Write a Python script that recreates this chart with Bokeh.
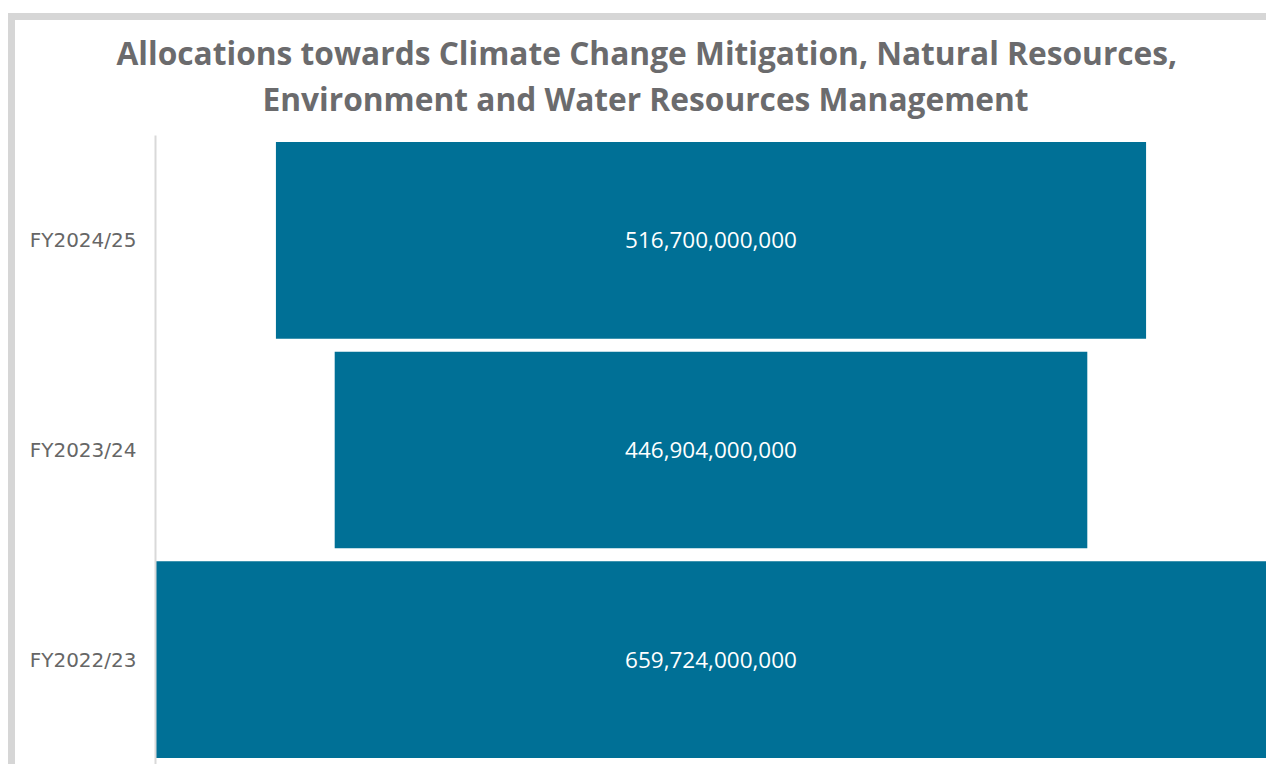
from bokeh.plotting import figure
from bokeh.models import ColumnDataSource, FactorRange, Range1d, Title
from bokeh.layouts import column
from bokeh.embed import file_html
from bokeh.resources import INLINE
from bokeh.core.properties import value

# ---- data ----
categories = ["FY2022/23", "FY2023/24", "FY2024/25"]
allocations = [659724000000, 446904000000, 516700000000]
title_lines = [
    "Allocations towards Climate Change Mitigation, Natural Resources,",
    "Environment and Water Resources Management",
]

BAR = "#007096"
FONT = "Open Sans"

max_v = max(allocations)
source = ColumnDataSource(dict(
    cat=categories,
    left=[-v / 2 for v in allocations],
    right=[v / 2 for v in allocations],
    label=[f"{v:,}" for v in allocations],
))

W, H = 1251, 744
p = figure(
    width=W, height=H,
    y_range=FactorRange(factors=categories, range_padding=0),
    x_range=Range1d(-max_v / 2, max_v / 2),
    output_backend="svg", toolbar_location=None,
    min_border_left=140, min_border_right=0,
    min_border_top=115, min_border_bottom=0,
)
p.background_fill_color = "white"
p.border_fill_color = "white"
p.outline_line_color = None
p.xgrid.visible = False
p.ygrid.visible = False
p.xaxis.visible = False

ax = p.yaxis[0]
ax.axis_line_color = "#d9d9d9"
ax.axis_line_width = 2
ax.major_tick_line_color = None
ax.minor_tick_line_color = None
ax.major_tick_out = 0
ax.major_label_standoff = 19
ax.major_label_text_font = "DejaVu Sans"
ax.major_label_text_font_size = "20px"
ax.major_label_text_color = "#666666"

p.hbar(y="cat", left="left", right="right", height=0.938, source=source,
       fill_color=BAR, line_color=None)

p.text(x=0, y="cat", text="label", source=source, text_align="center",
       text_baseline="middle", text_color="white",
       text_font=value(FONT), text_font_size="22.5px")

# title: second line closest to the frame, first line above it
offsets = [-39, 107]
standoffs = [-28, 31]
for line, off, so in reversed(list(zip(title_lines, offsets, standoffs))):
    p.add_layout(Title(
        text=line, align="left", offset=off, standoff=so,
        text_font=FONT, text_font_style="bold", text_font_size="31.7px",
        text_color="#6b6b6d",
    ), "above")

layout = column(p, styles={
    "margin-left": "8px",
    "margin-top": "13px",
    "border-top": "7px solid #d6d6d6",
    "border-left": "7px solid #d6d6d6",
})

open("out.html", "w").write(file_html(layout, INLINE))
